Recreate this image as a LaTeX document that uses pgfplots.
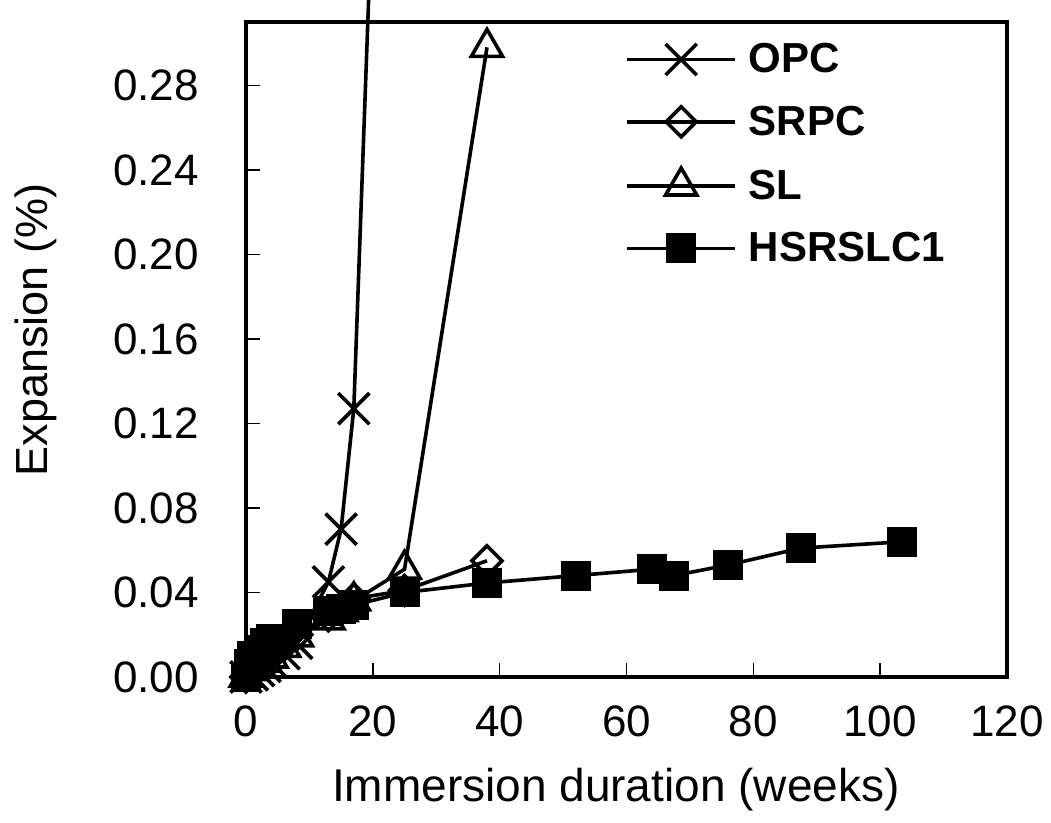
\documentclass[border=0pt]{standalone}
\usepackage{fontspec}
\setmainfont{Liberation Sans}
\usepackage{pgfplots}
\pgfplotsset{compat=1.18}
\usetikzlibrary{calc}

\begin{document}
\begin{tikzpicture}
\begin{axis}[
  scale only axis,
  width=380.5pt, height=327.5pt,
  xmin=0, xmax=120, ymin=0, ymax=0.31,
  xtick={0,20,40,60,80,100,120},
  ytick={0,0.04,0.08,0.12,0.16,0.20,0.24,0.28},
  /pgf/number format/assume math mode=true,
  yticklabel style={/pgf/number format/fixed, /pgf/number format/fixed zerofill, /pgf/number format/precision=2},
  tick align=inside, tick pos=left,
  major tick length=7pt,
  every tick/.style={black, line width=0.8pt},
  axis line style={line width=2pt},
  clip=false,
  ticklabel style={font=\fontsize{22}{26}\selectfont},
  xticklabel style={yshift=-11pt},
  yticklabel style={xshift=-20pt},
  xlabel={Immersion duration (weeks)},
  ylabel={Expansion (\%)},
  every axis x label/.style={at={(rel axis cs:0.486,-0.172)}, anchor=center, font=\fontsize{23}{27}\selectfont},
  every axis y label/.style={at={(rel axis cs:-0.276,0.53)}, rotate=90, anchor=center, font=\fontsize{22.5}{26}\selectfont},
  legend image code/.code={\draw[mark repeat=2, mark phase=2, #1] plot coordinates {(0pt,0pt) (27pt,0pt) (54pt,0pt)};},
  legend style={draw=none, fill=none, at={(rel axis cs:0.498,0.968)}, anchor=north west,
    font=\bfseries\fontsize{21}{24}\selectfont, inner sep=0pt, row sep=15pt,
    nodes={inner sep=0pt},
    /tikz/every odd column/.style={column sep=6pt}},
  legend cell align=left,
]
\addplot[black, line width=1.8pt, mark=x, mark size=11pt, mark options={line width=1.8pt}]
coordinates {(0,0) (1,0.001) (2,0.003) (3,0.005) (4,0.007) (6,0.011) (8,0.016) (13,0.045) (15,0.070) (17,0.127) (21.5,0.5)};
\addlegendentry{OPC}
\addplot[black, line width=1.8pt, mark=square, mark size=5.3pt, mark options={rotate=45, fill=white, line width=1.8pt}]
coordinates {(0,0) (1,0.003) (2,0.006) (3,0.008) (4,0.010) (6,0.015) (8,0.020) (13,0.029) (15,0.032) (17,0.037) (25,0.041) (38,0.055)};
\addlegendentry{SRPC}
\addplot[black, line width=1.8pt, mark=triangle, mark size=9pt, mark options={fill=white, line width=1.8pt}]
coordinates {(0,0) (1,0.003) (2,0.005) (3,0.007) (4,0.009) (6,0.014) (8,0.019) (13,0.027) (15,0.031) (17,0.036) (25,0.051) (38,0.298)};
\addlegendentry{SL}
\addplot[black, line width=1.8pt, mark=square*, mark size=7pt, mark options={fill=black, line width=1pt}]
coordinates {(0,0) (0.5,0.006) (1,0.010) (2,0.013) (3,0.016) (4,0.018) (8,0.025) (13,0.031) (15,0.032) (17,0.034) (25,0.040) (38,0.0445) (52,0.048) (64,0.051) (67.5,0.048) (76,0.053) (87.5,0.061) (103.5,0.064)};
\addlegendentry{HSRSLC1}
\end{axis}
\pgfresetboundingbox
\path[use as bounding box] ($(current axis.south west)+(-123pt,-73pt)$) rectangle ($(current axis.north east)+(22pt,11pt)$);
\end{tikzpicture}
\end{document}
